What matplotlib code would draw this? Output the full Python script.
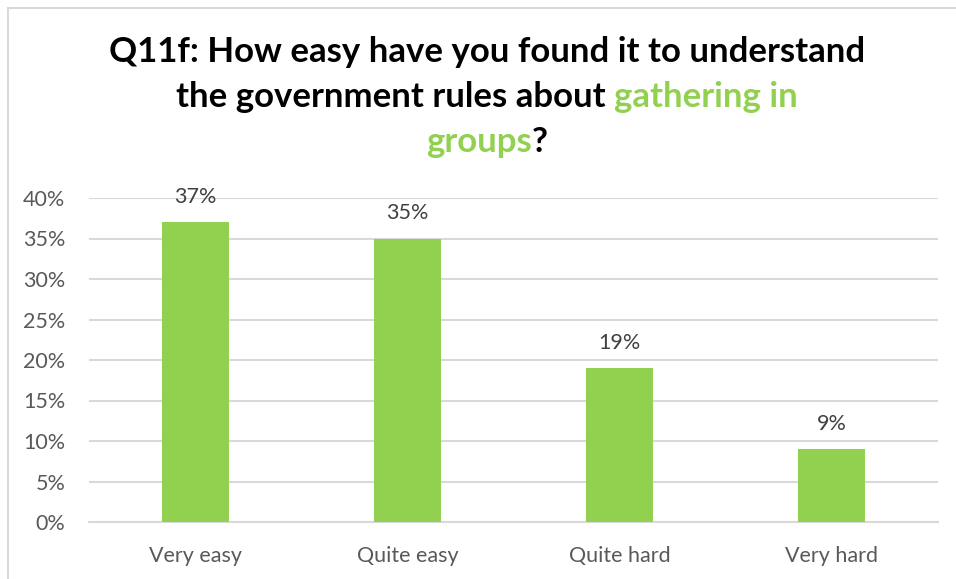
import matplotlib
matplotlib.use("Agg")
import matplotlib.pyplot as plt
from matplotlib.lines import Line2D
from matplotlib.ticker import FuncFormatter, MultipleLocator

categories = ["Very easy", "Quite easy", "Quite hard", "Very hard"]
values = [37, 35, 19, 9]
title_lines = [
    [("Q11f: How easy have you found it to understand", "black")],
    [("the government rules about ", "black"), ("gathering in", "#92D050")],
    [("groups", "#92D050"), ("?", "black")],
]

GREEN = "#92D050"
GRID = "#D9D9D9"
FONT = "Lato"

W, H = 956, 579
fig = plt.figure(figsize=(W / 100, H / 100), dpi=100)

# chart frame (only top and left edges visible in the crop)
fig.add_artist(Line2D([8 / W, 8 / W], [0, 1 - 8 / H], color=GRID, lw=1.5))
fig.add_artist(Line2D([8 / W, 1], [1 - 8 / H, 1 - 8 / H], color=GRID, lw=1.5))

left, right = 89 / W, 938 / W
bottom, top = 1 - 522 / H, 1 - 198 / H
ax = fig.add_axes([left, bottom, right - left, top - bottom])

x = list(range(len(categories)))
bars = ax.bar(x, values, width=0.316, color=GREEN, zorder=3)
ax.set_xlim(-0.5, len(categories) - 0.5)
ax.set_ylim(0, 40)
ax.yaxis.set_major_locator(MultipleLocator(5))
ax.yaxis.set_major_formatter(FuncFormatter(lambda v, p: f"{v:.0f}%"))
ax.set_xticks(x)
ax.set_xticklabels(categories)
ax.grid(axis="y", color=GRID, lw=1.5, zorder=0)
for s in ["top", "right", "left"]:
    ax.spines[s].set_visible(False)
ax.spines["bottom"].set_color(GRID)
ax.spines["bottom"].set_linewidth(1.5)
ax.tick_params(length=0, labelsize=15.5, labelcolor="#595959")
ax.tick_params(axis="y", pad=17)
ax.tick_params(axis="x", pad=17)
for lab in ax.get_xticklabels() + ax.get_yticklabels():
    lab.set_fontfamily(FONT)

for b, v in zip(bars, values):
    ax.annotate(f"{v}%", (b.get_x() + b.get_width() / 2, v), xytext=(0, 11),
                textcoords="offset points", ha="center", va="bottom",
                fontsize=15.5, color="#404040", family=FONT)

# title with mixed colours, drawn piece by piece and centred per line
renderer = fig.canvas.get_renderer()
cx = 487 / W
baselines = [62, 107, 152]
for line, yb in zip(title_lines, baselines):
    texts = []
    for s, c in line:
        t = fig.text(0, 1 - yb / H, s, color=c, fontsize=25, fontweight="bold",
                     family=FONT, va="baseline", ha="left")
        texts.append(t)
    widths = [t.get_window_extent(renderer).width / W for t in texts]
    xpos = cx - sum(widths) / 2
    for t, w in zip(texts, widths):
        t.set_x(xpos)
        xpos += w

fig.savefig("out.png", dpi=100)
